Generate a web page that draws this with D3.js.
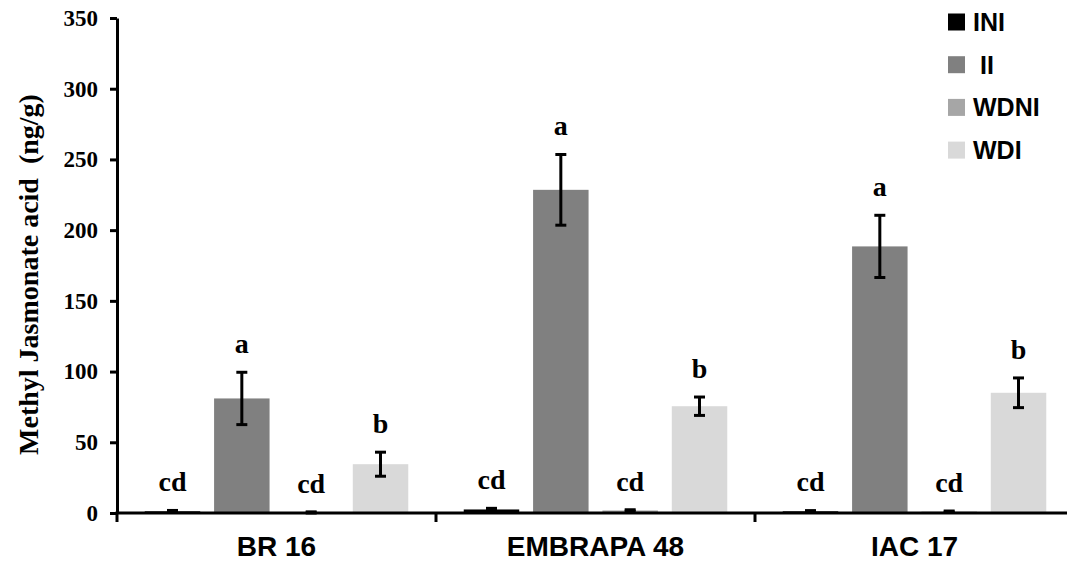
<!DOCTYPE html>
<html>
<head>
<meta charset="utf-8">
<script src="https://cdn.jsdelivr.net/npm/d3@7"></script>
<style>
  html, body { margin: 0; padding: 0; background: #fff; }
  svg { display: block; }
</style>
</head>
<body>
<svg id="chart" width="1067" height="565"></svg>
<script>
// ---- data ----
const groups = ["BR 16", "EMBRAPA 48", "IAC 17"];
const seriesNames = ["INI", "II", "WDNI", "WDI"];
const seriesLegend = ["INI", " II", "WDNI", "WDI"];
const iniValues  = [1.2, 2.5, 1.2];
const iniErr     = [0.6, 0.8, 0.5];
const iiValues   = [81, 228.5, 188.5];
const iiErr      = [18.5, 25, 22];
const wdniValues = [0.4, 1.8, 1.0];
const wdniErr    = [0.4, 0.5, 0.4];
const wdiValues  = [34.5, 75.5, 85];
const wdiErr     = [8.5, 6.5, 10.5];
const letters    = ["cd", "a", "cd", "b"];
const yTicks     = [0, 50, 100, 150, 200, 250, 300, 350];
const yTitle     = "Methyl Jasmonate acid  (ng/g)";

const values = [iniValues, iiValues, wdniValues, wdiValues];
const errors = [iniErr, iiErr, wdniErr, wdiErr];
const colors = ["#000000", "#808080", "#a6a6a6", "#d9d9d9"];

const svg = d3.select("#chart");
const serif = "'Liberation Serif','Times New Roman',serif";
const sans = "'Liberation Sans',Arial,sans-serif";

const mLeft = 117, mRight = 1074, mTop = 18, mBottom = 513;

const y = d3.scaleLinear().domain([0, 350]).range([mBottom, mTop]);
const x0 = d3.scaleBand().domain(groups).range([mLeft, mRight]).padding(0);
const x1 = d3.scaleBand().domain(seriesNames).range([0, x0.bandwidth()])
  .paddingInner(0.2).paddingOuter(0.4);

const data = [];
groups.forEach((g, gi) => {
  seriesNames.forEach((s, si) => {
    data.push({ g, s, si, v: values[si][gi], e: errors[si][gi], letter: letters[si] });
  });
});

// bars
svg.append("g").selectAll("rect").data(data).enter().append("rect")
  .attr("x", d => x0(d.g) + x1(d.s))
  .attr("width", x1.bandwidth())
  .attr("y", d => y(d.v))
  .attr("height", d => y(0) - y(d.v))
  .attr("fill", d => colors[d.si]);

// error bars
const eg = svg.append("g").attr("stroke", "#000").attr("stroke-width", 3);
data.forEach(d => {
  const cx = x0(d.g) + x1(d.s) + x1.bandwidth() / 2;
  const y1 = y(d.v + d.e), y2 = y(d.v - d.e);
  eg.append("line").attr("x1", cx).attr("x2", cx).attr("y1", y1).attr("y2", y2);
  eg.append("line").attr("x1", cx - 5.5).attr("x2", cx + 5.5).attr("y1", y1).attr("y2", y1);
  eg.append("line").attr("x1", cx - 5.5).attr("x2", cx + 5.5).attr("y1", y2).attr("y2", y2);
});

// letters
svg.append("g").selectAll("text").data(data).enter().append("text")
  .attr("x", d => x0(d.g) + x1(d.s) + x1.bandwidth() / 2)
  .attr("y", d => y(d.v + d.e) - 29)
  .attr("dy", "0.35em")
  .attr("text-anchor", "middle")
  .attr("font-family", serif).attr("font-weight", "bold").attr("font-size", 28)
  .text(d => d.letter);

// y axis
const yAxis = d3.axisLeft(y).tickValues(yTicks).tickSize(7).tickPadding(12).tickSizeOuter(0);
const ya = svg.append("g").attr("transform", `translate(${mLeft},0)`).call(yAxis);
ya.select(".domain").attr("stroke", "#000").attr("stroke-width", 3);
ya.selectAll(".tick line").attr("stroke", "#000").attr("stroke-width", 3);
ya.selectAll(".tick text").attr("font-family", serif).attr("font-weight", "bold")
  .attr("font-size", 23).attr("fill", "#000");

// x axis
const xa = svg.append("g").attr("transform", `translate(0,${mBottom})`);
xa.append("line").attr("x1", mLeft - 1.5).attr("x2", 1067).attr("y1", 0).attr("y2", 0)
  .attr("stroke", "#000").attr("stroke-width", 3);
const bounds = groups.map(g => x0(g)).concat([mRight]);
xa.selectAll(".sep").data(bounds).enter().append("line")
  .attr("x1", d => d).attr("x2", d => d).attr("y1", 0).attr("y2", 9)
  .attr("stroke", "#000").attr("stroke-width", 3);
xa.selectAll(".cat").data(groups).enter().append("text")
  .attr("x", d => x0(d) + x0.bandwidth() / 2)
  .attr("y", 43)
  .attr("text-anchor", "middle")
  .attr("font-family", sans).attr("font-weight", "bold").attr("font-size", 28)
  .text(d => d);

// y title
svg.append("text")
  .attr("transform", `translate(38,${(mTop + mBottom) / 2 + 9}) rotate(-90)`)
  .attr("text-anchor", "middle")
  .attr("font-family", serif).attr("font-weight", "bold").attr("font-size", 28)
  .style("white-space", "pre")
  .text(yTitle);

// legend
const lg = svg.append("g");
seriesNames.forEach((s, i) => {
  const cy = 22 + i * 42.7;
  lg.append("rect").attr("x", 948).attr("y", cy - 8.5).attr("width", 17).attr("height", 17)
    .attr("fill", colors[i]);
  lg.append("text").attr("x", 973).attr("y", cy).attr("dy", "0.36em")
    .attr("font-family", sans).attr("font-weight", "bold").attr("font-size", 25)
    .style("white-space", "pre")
    .text(seriesLegend[i]);
});
</script>
</body>
</html>
